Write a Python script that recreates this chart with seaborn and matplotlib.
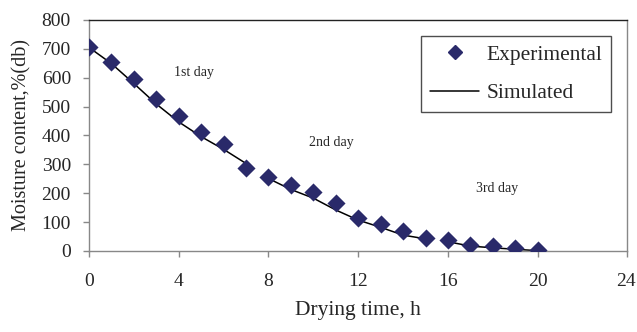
import matplotlib
matplotlib.use("Agg")
import matplotlib.pyplot as plt
import matplotlib.transforms as mtransforms
import seaborn as sns
import pandas as pd
from matplotlib.lines import Line2D

# Data
time_h = list(range(0, 21))
experimental = [707, 656, 597, 526, 468, 411, 371, 288, 255, 228, 204, 165,
                114, 93, 69, 45, 37, 22, 17, 11, 3]
simulated = [705, 649, 580, 509, 447, 396, 352, 303, 251, 213, 183, 142,
             107, 82, 55, 42, 32, 17, 11, 6, 1]
day = [1, 1, 1, 1, 1, 1, 1, 1, 2, 2, 2, 2, 2, 2, 2, 2, 3, 3, 3, 3, 3]
day_labels = ["1st day", "2nd day", "3rd day"]
day_label_pos = [(4.7, 618), (10.8, 374), (18.2, 218)]
x_ticks = [0, 4, 8, 12, 16, 20, 24]
y_ticks = [0, 100, 200, 300, 400, 500, 600, 700, 800]

df = pd.DataFrame({"time": time_h, "exp": experimental, "sim": simulated, "day": day})

sns.set_style("white")
plt.rcParams['font.family'] = ['Liberation Serif', 'DejaVu Serif']

fig = plt.figure(figsize=(6.37, 3.32), dpi=100)
ax = fig.add_axes([0.1397, 0.244, 0.8453, 0.6958])

sns.lineplot(data=df, x="time", y="sim", units="day", estimator=None,
             color="black", linewidth=1.1, ax=ax, legend=False)
sns.scatterplot(data=df, x="time", y="exp", marker="D", s=85,
                color="#2a2a6a", edgecolor="#2a2a6a", linewidth=0, ax=ax,
                legend=False, zorder=3)

ax.set_xlim(0, 24)
ax.set_ylim(0, 800)
ax.set_xticks(x_ticks)
ax.set_yticks(y_ticks)
ax.tick_params(axis="both", direction="out", length=4, width=1,
               color="#888888", labelsize=14, left=True, bottom=True)
ax.tick_params(axis="y", pad=9)
ax.tick_params(axis="x", pad=12)

# keep the last x tick label inside the figure
last = ax.get_xticklabels()[-1]
last.set_transform(last.get_transform() +
                   mtransforms.ScaledTranslation(-2 / 100, 0, fig.dpi_scale_trans))

for name, sp in ax.spines.items():
    sp.set_visible(True)
    sp.set_linewidth(1)
    sp.set_color("#888888")
ax.spines["top"].set_color("#222222")

ax.set_xlabel("Drying time, h", fontsize=15.5, labelpad=8)
ax.set_ylabel("Moisture content,%(db)", fontsize=14.5, labelpad=7)

for lbl, (xx, yy) in zip(day_labels, day_label_pos):
    ax.text(xx, yy, lbl, fontsize=10, ha="center", va="center")

handles = [
    Line2D([], [], marker="D", color="#2a2a6a", linestyle="none", markersize=7),
    Line2D([], [], color="black", linewidth=1.1),
]
leg = ax.legend(handles, ["Experimental", "Simulated"], loc="upper right",
                bbox_to_anchor=(0.97, 0.93), fontsize=15.5, frameon=True,
                fancybox=False, edgecolor="#222222", handlelength=2.3,
                borderpad=0.4, labelspacing=0.85, handletextpad=0.35,
                borderaxespad=0.0)
leg.get_frame().set_linewidth(1)

fig.savefig("out.png", dpi=100)
